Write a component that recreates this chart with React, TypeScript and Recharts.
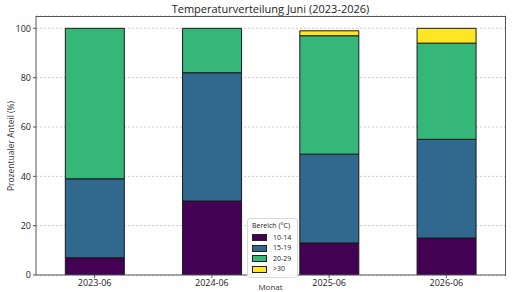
import { BarChart, Bar, XAxis, YAxis, CartesianGrid } from "recharts"

const months = ["2023-06", "2024-06", "2025-06", "2026-06"]
const range10to14 = [7, 30, 13, 15]
const range15to19 = [32, 52, 36, 40]
const range20to29 = [61, 18, 48, 39]
const rangeOver30 = [0, 0, 2, 6]
const yTicks = [0, 20, 40, 60, 80, 100]

const SERIES = [
  { key: "r1", label: "10-14", color: "#440154", values: range10to14 },
  { key: "r2", label: "15-19", color: "#31688e", values: range15to19 },
  { key: "r3", label: "20-29", color: "#35b779", values: range20to29 },
  { key: "r4", label: ">30", color: "#fde725", values: rangeOver30 },
]

const data = months.map((m, i) => {
  const row: Record<string, string | number> = { month: m }
  SERIES.forEach((s) => (row[s.key] = s.values[i]))
  return row
})

const FONT = "'Open Sans', 'DejaVu Sans', sans-serif"

function LegendBox() {
  return (
    <div
      style={{
        position: "absolute",
        left: 247,
        top: 218,
        background: "rgba(255,255,255,0.9)",
        border: "1px solid #d8d8d8",
        borderRadius: 3,
        padding: "2px 6px 2px 4px",
        fontSize: 7,
        color: "#222",
        lineHeight: "10.5px",
      }}
    >
      <div style={{ marginBottom: 1 }}>Bereich (°C)</div>
      {SERIES.map((s) => (
        <div key={s.key} style={{ display: "flex", alignItems: "center", gap: 6 }}>
          <span
            style={{
              width: 13,
              height: 5,
              background: s.color,
              border: "1px solid #222",
              display: "inline-block",
            }}
          />
          <span>{s.label}</span>
        </div>
      ))}
    </div>
  )
}

export default function App() {
  return (
    <div
      style={{
        position: "fixed",
        left: 0,
        top: 0,
        width: 517,
        height: 292,
        background: "#fff",
        overflow: "hidden",
        fontFamily: FONT,
      }}
    >
      <div
        style={{
          position: "absolute",
          top: 1,
          left: 36,
          width: 469,
          textAlign: "center",
          fontSize: 11,
          color: "#222",
        }}
      >
        Temperaturverteilung Juni (2023-2026)
      </div>
      <div
        style={{
          position: "absolute",
          left: 10,
          top: 146,
          transform: "translate(-50%, -50%) rotate(-90deg)",
          fontSize: 8.5,
          color: "#333",
          whiteSpace: "nowrap",
        }}
      >
        Prozentualer Anteil (%)
      </div>
      <BarChart
        width={517}
        height={292}
        data={data}
        margin={{ top: 16, right: 12, bottom: 0, left: 0 }}
        barCategoryGap="25%"
        style={{ position: "absolute", left: 0, top: 0 }}
      >
        <CartesianGrid horizontal vertical={false} stroke="#c8c8c8" strokeDasharray="2 2" />
        <XAxis
          dataKey="month"
          height={17}
          tick={{ fontSize: 9, fill: "#222" }}
          tickLine={{ stroke: "#555" }}
          tickSize={3}
          axisLine={{ stroke: "#555" }}
        />
        <YAxis
          width={36}
          domain={[0, 105]}
          ticks={yTicks}
          tick={{ fontSize: 9, fill: "#222" }}
          tickLine={{ stroke: "#555" }}
          tickSize={3}
          axisLine={{ stroke: "#555" }}
          allowDataOverflow
        />
        {SERIES.map((s) => (
          <Bar
            key={s.key}
            dataKey={s.key}
            name={s.label}
            stackId="a"
            fill={s.color}
            stroke="#1a1a1a"
            strokeWidth={1}
            isAnimationActive={false}
          />
        ))}
      </BarChart>
      <div
        style={{
          position: "absolute",
          left: 36,
          top: 16,
          width: 470,
          height: 260,
          borderTop: "1px solid #555",
          borderRight: "1px solid #555",
          boxSizing: "border-box",
          pointerEvents: "none",
        }}
      />
      <LegendBox />
      <div
        style={{
          position: "absolute",
          top: 281,
          left: 36,
          width: 469,
          textAlign: "center",
          fontSize: 8,
          color: "#333",
        }}
      >
        Monat
      </div>
    </div>
  )
}
